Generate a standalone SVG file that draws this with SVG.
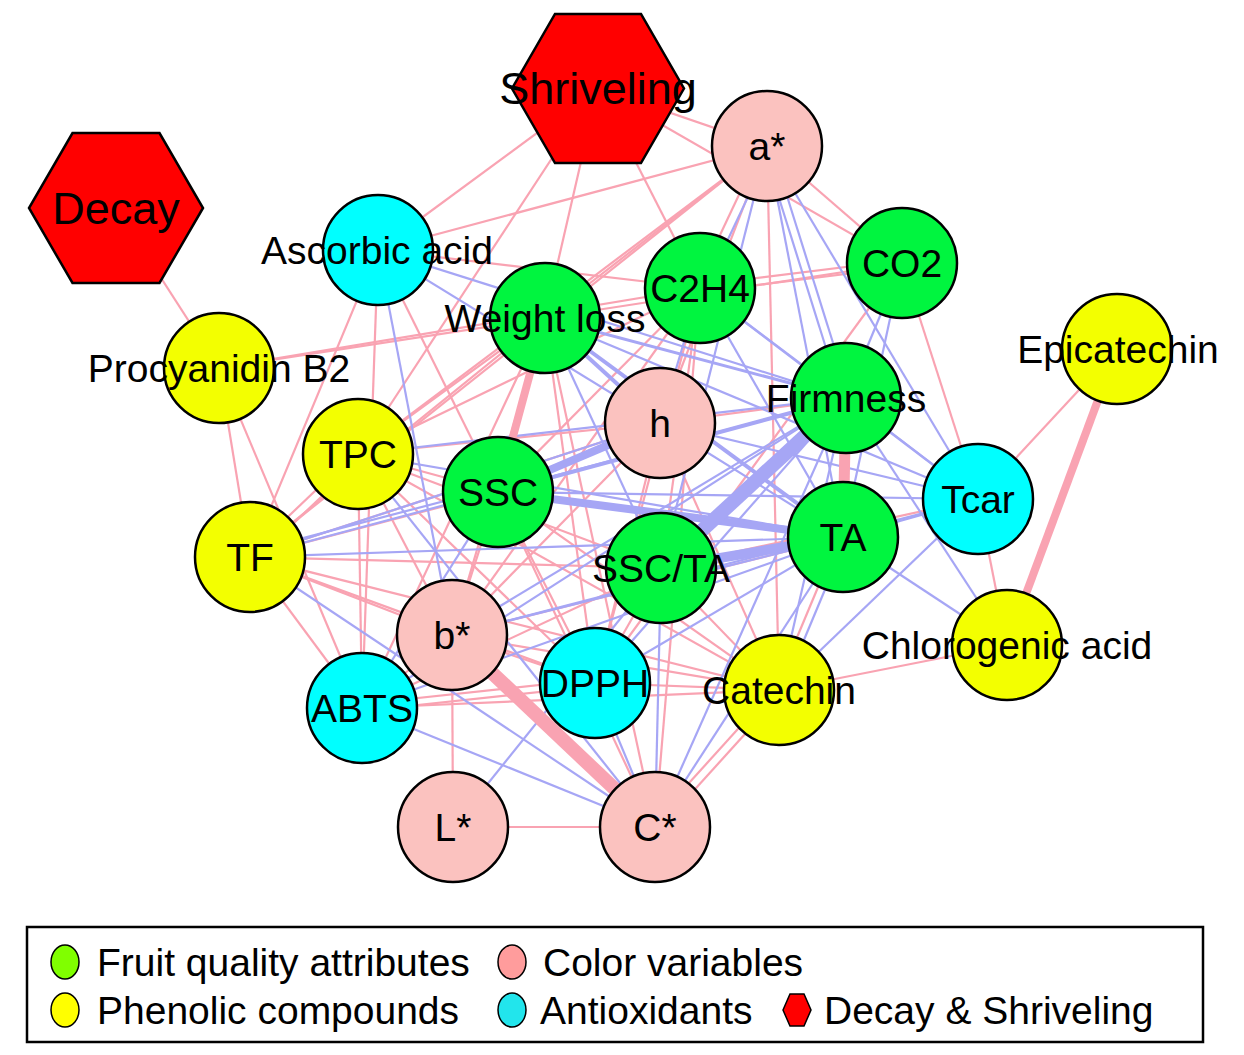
<svg xmlns="http://www.w3.org/2000/svg" width="1244" height="1055" viewBox="0 0 1244 1055">
<style>
.p{stroke:#f9a3b2;stroke-width:2.2;fill:none}
.n{stroke:#a6a6f5;stroke-width:2.2;fill:none}
.node{stroke:#000;stroke-width:2.5}
.g{fill:#00f53f}.c{fill:#fbc2bf}.y{fill:#f3ff00}.a{fill:#00ffff}.r{fill:#ff0000}
text{font-family:"Liberation Sans",Arial,sans-serif;fill:#000}
.lb{font-size:39px;text-anchor:middle}
.hx{font-size:45px;text-anchor:middle}
.lg{font-size:39px}
.lm{stroke:#000;stroke-width:1.5}
</style>
<rect width="1244" height="1055" fill="#fff"/>
<g id="edges">
<line class="p" x1="116" y1="208" x2="219" y2="368"/>
<line class="p" x1="598" y1="88" x2="378" y2="250"/>
<line class="p" x1="598" y1="88" x2="358" y2="454"/>
<line class="p" x1="598" y1="88" x2="545" y2="318"/>
<line class="p" x1="598" y1="88" x2="700" y2="288"/>
<line class="p" x1="598" y1="88" x2="767" y2="146"/>
<line class="p" x1="598" y1="88" x2="902" y2="263"/>
<line class="p" x1="767" y1="146" x2="902" y2="263"/>
<line class="p" x1="767" y1="146" x2="378" y2="250"/>
<line class="p" x1="767" y1="146" x2="358" y2="454"/>
<line class="p" x1="767" y1="146" x2="250" y2="557"/>
<line class="p" x1="767" y1="146" x2="545" y2="318"/>
<line class="p" x1="762" y1="146" x2="695" y2="288"/>
<line class="p" x1="767" y1="146" x2="660" y2="423"/>
<line class="p" x1="767" y1="146" x2="779" y2="690"/>
<line class="p" x1="902" y1="263" x2="978" y2="499"/>
<line class="p" x1="219" y1="368" x2="250" y2="557"/>
<line class="p" x1="219" y1="368" x2="362" y2="708"/>
<line class="p" x1="219" y1="368" x2="545" y2="318"/>
<line class="p" x1="219" y1="368" x2="700" y2="288"/>
<line class="p" x1="378" y1="250" x2="250" y2="557"/>
<line class="p" x1="378" y1="250" x2="362" y2="708"/>
<line class="p" x1="378" y1="250" x2="498" y2="492"/>
<line class="p" x1="378" y1="250" x2="700" y2="288"/>
<line class="p" x1="545" y1="318" x2="358" y2="454"/>
<line class="p" x1="545" y1="318" x2="250" y2="557"/>
<line class="p" x1="545" y1="318" x2="362" y2="708"/>
<line class="p" x1="545" y1="318" x2="452" y2="635"/>
<line class="p" x1="545" y1="318" x2="595" y2="683"/>
<line class="p" x1="545" y1="318" x2="655" y2="827"/>
<line class="p" x1="545" y1="318" x2="902" y2="263"/>
<line class="p" x1="700" y1="285" x2="902" y2="260"/>
<line class="p" x1="700" y1="292" x2="902" y2="267"/>
<line class="p" x1="700" y1="288" x2="358" y2="454"/>
<line class="p" x1="700" y1="288" x2="498" y2="492"/>
<line class="p" x1="700" y1="288" x2="452" y2="635"/>
<line class="p" x1="700" y1="288" x2="595" y2="683"/>
<line class="p" x1="700" y1="288" x2="655" y2="827"/>
<line class="p" x1="700" y1="288" x2="661" y2="568"/>
<line class="p" x1="902" y1="263" x2="595" y2="683"/>
<line class="p" x1="1117" y1="349" x2="978" y2="499"/>
<line class="p" x1="978" y1="499" x2="661" y2="568"/>
<line class="p" x1="978" y1="499" x2="1007" y2="645"/>
<line class="p" x1="1007" y1="645" x2="779" y2="690"/>
<line class="p" x1="358" y1="450" x2="250" y2="553"/>
<line class="p" x1="362" y1="458" x2="254" y2="561"/>
<line class="p" x1="358" y1="454" x2="362" y2="708"/>
<line class="p" x1="358" y1="454" x2="498" y2="492"/>
<line class="p" x1="358" y1="454" x2="452" y2="635"/>
<line class="p" x1="358" y1="454" x2="595" y2="683"/>
<line class="p" x1="358" y1="454" x2="661" y2="568"/>
<line class="p" x1="358" y1="454" x2="779" y2="690"/>
<line class="p" x1="250" y1="557" x2="498" y2="492"/>
<line class="p" x1="250" y1="557" x2="452" y2="635"/>
<line class="p" x1="250" y1="557" x2="595" y2="683"/>
<line class="p" x1="250" y1="557" x2="362" y2="708"/>
<line class="p" x1="250" y1="557" x2="779" y2="690"/>
<line class="p" x1="250" y1="557" x2="661" y2="568"/>
<line class="p" x1="498" y1="492" x2="452" y2="635"/>
<line class="p" x1="498" y1="492" x2="595" y2="683"/>
<line class="p" x1="498" y1="492" x2="779" y2="690"/>
<line class="p" x1="498" y1="492" x2="655" y2="827"/>
<line class="p" x1="452" y1="635" x2="595" y2="683"/>
<line class="p" x1="452" y1="635" x2="779" y2="690"/>
<line class="p" x1="452" y1="635" x2="453" y2="827"/>
<line class="p" x1="452" y1="635" x2="362" y2="708"/>
<line class="p" x1="362" y1="704" x2="595" y2="679"/>
<line class="p" x1="362" y1="711" x2="595" y2="686"/>
<line class="p" x1="362" y1="708" x2="779" y2="690"/>
<line class="p" x1="362" y1="708" x2="661" y2="568"/>
<line class="p" x1="453" y1="827" x2="655" y2="827"/>
<line class="p" x1="595" y1="683" x2="779" y2="690"/>
<line class="p" x1="595" y1="683" x2="661" y2="568"/>
<line class="p" x1="651" y1="825" x2="775" y2="688"/>
<line class="p" x1="659" y1="829" x2="783" y2="692"/>
<line class="p" x1="660" y1="423" x2="452" y2="635"/>
<line class="p" x1="660" y1="423" x2="595" y2="683"/>
<line class="p" x1="660" y1="423" x2="779" y2="690"/>
<line class="p" x1="660" y1="423" x2="358" y2="454"/>
<line class="p" x1="660" y1="423" x2="250" y2="557"/>
<line class="p" x1="660" y1="423" x2="846" y2="398"/>
<line class="p" x1="661" y1="568" x2="779" y2="690"/>
<line class="p" x1="843" y1="537" x2="452" y2="635"/>
<line class="p" x1="839" y1="537" x2="775" y2="690"/>
<line class="n" x1="772" y1="146" x2="705" y2="288"/>
<line class="n" x1="763" y1="147" x2="842" y2="399"/>
<line class="n" x1="771" y1="145" x2="850" y2="397"/>
<line class="n" x1="767" y1="146" x2="843" y2="537"/>
<line class="n" x1="767" y1="146" x2="661" y2="568"/>
<line class="n" x1="767" y1="146" x2="978" y2="499"/>
<line class="n" x1="902" y1="263" x2="846" y2="398"/>
<line class="n" x1="902" y1="263" x2="843" y2="537"/>
<line class="n" x1="700" y1="288" x2="846" y2="398"/>
<line class="n" x1="700" y1="288" x2="843" y2="537"/>
<line class="n" x1="700" y1="288" x2="978" y2="499"/>
<line class="n" x1="700" y1="288" x2="660" y2="423"/>
<line class="n" x1="378" y1="250" x2="452" y2="635"/>
<line class="n" x1="378" y1="250" x2="660" y2="423"/>
<line class="n" x1="378" y1="250" x2="846" y2="398"/>
<line class="n" x1="545" y1="318" x2="661" y2="568"/>
<line class="n" x1="545" y1="318" x2="978" y2="499"/>
<line class="n" x1="846" y1="398" x2="978" y2="499"/>
<line class="n" x1="843" y1="537" x2="978" y2="499"/>
<line class="n" x1="846" y1="398" x2="1007" y2="645"/>
<line class="n" x1="843" y1="537" x2="1007" y2="645"/>
<line class="n" x1="358" y1="454" x2="846" y2="398"/>
<line class="n" x1="358" y1="454" x2="843" y2="537"/>
<line class="n" x1="250" y1="557" x2="846" y2="398"/>
<line class="n" x1="250" y1="557" x2="843" y2="537"/>
<line class="n" x1="250" y1="557" x2="660" y2="423"/>
<line class="n" x1="250" y1="552" x2="498" y2="487"/>
<line class="n" x1="250" y1="557" x2="655" y2="827"/>
<line class="n" x1="358" y1="454" x2="655" y2="827"/>
<line class="n" x1="452" y1="635" x2="846" y2="398"/>
<line class="n" x1="452" y1="635" x2="843" y2="537"/>
<line class="n" x1="452" y1="635" x2="978" y2="499"/>
<line class="n" x1="362" y1="708" x2="655" y2="827"/>
<line class="n" x1="362" y1="708" x2="846" y2="398"/>
<line class="n" x1="362" y1="708" x2="843" y2="537"/>
<line class="n" x1="362" y1="708" x2="498" y2="492"/>
<line class="n" x1="453" y1="827" x2="661" y2="568"/>
<line class="n" x1="655" y1="827" x2="595" y2="683"/>
<line class="n" x1="655" y1="827" x2="661" y2="568"/>
<line class="n" x1="655" y1="827" x2="843" y2="537"/>
<line class="n" x1="655" y1="827" x2="846" y2="398"/>
<line class="n" x1="595" y1="683" x2="846" y2="398"/>
<line class="n" x1="595" y1="683" x2="843" y2="537"/>
<line class="n" x1="779" y1="690" x2="846" y2="398"/>
<line class="n" x1="783" y1="690" x2="847" y2="537"/>
<line class="n" x1="779" y1="690" x2="978" y2="499"/>
<line class="n" x1="660" y1="423" x2="843" y2="537"/>
<line class="n" x1="660" y1="423" x2="978" y2="499"/>
<line class="n" x1="978" y1="499" x2="498" y2="492"/>
<line class="n" x1="545" y1="318" x2="660" y2="423" style="stroke-width:4"/>
<line class="n" x1="545" y1="318" x2="846" y2="398" style="stroke-width:3"/>
<line class="n" x1="545" y1="318" x2="843" y2="537" style="stroke-width:4"/>
<line class="n" x1="498" y1="492" x2="846" y2="398" style="stroke-width:4"/>
<line class="n" x1="498" y1="492" x2="660" y2="423" style="stroke-width:8"/>
<line class="n" x1="498" y1="492" x2="843" y2="537" style="stroke-width:8"/>
<line class="n" x1="846" y1="398" x2="661" y2="568" style="stroke-width:14"/>
<line class="n" x1="843" y1="537" x2="661" y2="568" style="stroke-width:10"/>
<line class="p" x1="545" y1="318" x2="498" y2="492" style="stroke-width:8"/>
<line class="p" x1="1117" y1="349" x2="1007" y2="645" style="stroke-width:8"/>
<line class="p" x1="846" y1="398" x2="843" y2="537" style="stroke-width:11"/>
<line class="p" x1="452" y1="635" x2="655" y2="827" style="stroke-width:14"/>
</g>
<g id="node-decay"><polygon class="node r" points="203,208 159.5,283 72.5,283 29,208 72.5,133 159.5,133"/><text class="hx" x="116" y="224">Decay</text></g>
<g id="node-shriveling"><polygon class="node r" points="684,88.5 641,163 555,163 512,88.5 555,14 641,14"/><text class="hx" x="598" y="104">Shriveling</text></g>
<g id="node-astar"><circle class="node c" cx="767" cy="146" r="55"/><text class="lb" x="767" y="160">a*</text></g>
<g id="node-ascorbic"><circle class="node a" cx="378" cy="250" r="55"/><text class="lb" x="377" y="264">Ascorbic acid</text></g>
<g id="node-c2h4"><circle class="node g" cx="700" cy="288" r="55"/><text class="lb" x="700" y="302">C2H4</text></g>
<g id="node-co2"><circle class="node g" cx="902" cy="263" r="55"/><text class="lb" x="902" y="277">CO2</text></g>
<g id="node-weightloss"><circle class="node g" cx="545" cy="318" r="55"/><text class="lb" x="545" y="332">Weight loss</text></g>
<g id="node-procyanidin"><circle class="node y" cx="219" cy="368" r="55"/><text class="lb" x="219" y="382">Procyanidin B2</text></g>
<g id="node-epicatechin"><circle class="node y" cx="1117" cy="349" r="55"/><text class="lb" x="1118" y="363">Epicatechin</text></g>
<g id="node-firmness"><circle class="node g" cx="846" cy="398" r="55"/><text class="lb" x="846" y="412">Firmness</text></g>
<g id="node-h"><circle class="node c" cx="660" cy="423" r="55"/><text class="lb" x="660" y="437">h</text></g>
<g id="node-tpc"><circle class="node y" cx="358" cy="454" r="55"/><text class="lb" x="358" y="468">TPC</text></g>
<g id="node-ssc"><circle class="node g" cx="498" cy="492" r="55"/><text class="lb" x="498" y="506">SSC</text></g>
<g id="node-tcar"><circle class="node a" cx="978" cy="499" r="55"/><text class="lb" x="978" y="513">Tcar</text></g>
<g id="node-ta"><circle class="node g" cx="843" cy="537" r="55"/><text class="lb" x="843" y="551">TA</text></g>
<g id="node-tf"><circle class="node y" cx="250" cy="557" r="55"/><text class="lb" x="250" y="571">TF</text></g>
<g id="node-sscta"><circle class="node g" cx="661" cy="568" r="55"/><text class="lb" x="661" y="582">SSC/TA</text></g>
<g id="node-bstar"><circle class="node c" cx="452" cy="635" r="55"/><text class="lb" x="452" y="649">b*</text></g>
<g id="node-chlorogenic"><circle class="node y" cx="1007" cy="645" r="55"/><text class="lb" x="1007" y="659">Chlorogenic acid</text></g>
<g id="node-dpph"><circle class="node a" cx="595" cy="683" r="55"/><text class="lb" x="595" y="697">DPPH</text></g>
<g id="node-catechin"><circle class="node y" cx="779" cy="690" r="55"/><text class="lb" x="779" y="704">Catechin</text></g>
<g id="node-abts"><circle class="node a" cx="362" cy="708" r="55"/><text class="lb" x="362" y="722">ABTS</text></g>
<g id="node-lstar"><circle class="node c" cx="453" cy="827" r="55"/><text class="lb" x="453" y="841">L*</text></g>
<g id="node-cstar"><circle class="node c" cx="655" cy="827" r="55"/><text class="lb" x="655" y="841">C*</text></g>
<g id="legend">
<rect x="27" y="927" width="1176" height="115" fill="#fff" stroke="#000" stroke-width="2.5"/>
<ellipse class="lm" cx="65" cy="962" rx="14" ry="17" fill="#80ff00"/>
<text class="lg" x="97" y="976">Fruit quality attributes</text>
<ellipse class="lm" cx="512" cy="962" rx="14" ry="17" fill="#ff9c9c"/>
<text class="lg" x="543" y="976">Color variables</text>
<ellipse class="lm" cx="65" cy="1010" rx="14" ry="17" fill="#ffff00"/>
<text class="lg" x="97" y="1024">Phenolic compounds</text>
<ellipse class="lm" cx="512" cy="1010" rx="14" ry="17" fill="#22e5ec"/>
<text class="lg" x="540" y="1024">Antioxidants</text>
<polygon class="lm" points="783,1010 790,994 804,994 811,1010 804,1026 790,1026" fill="#ff0000"/>
<text class="lg" x="824" y="1024">Decay &amp; Shriveling</text>
</g>
</svg>
